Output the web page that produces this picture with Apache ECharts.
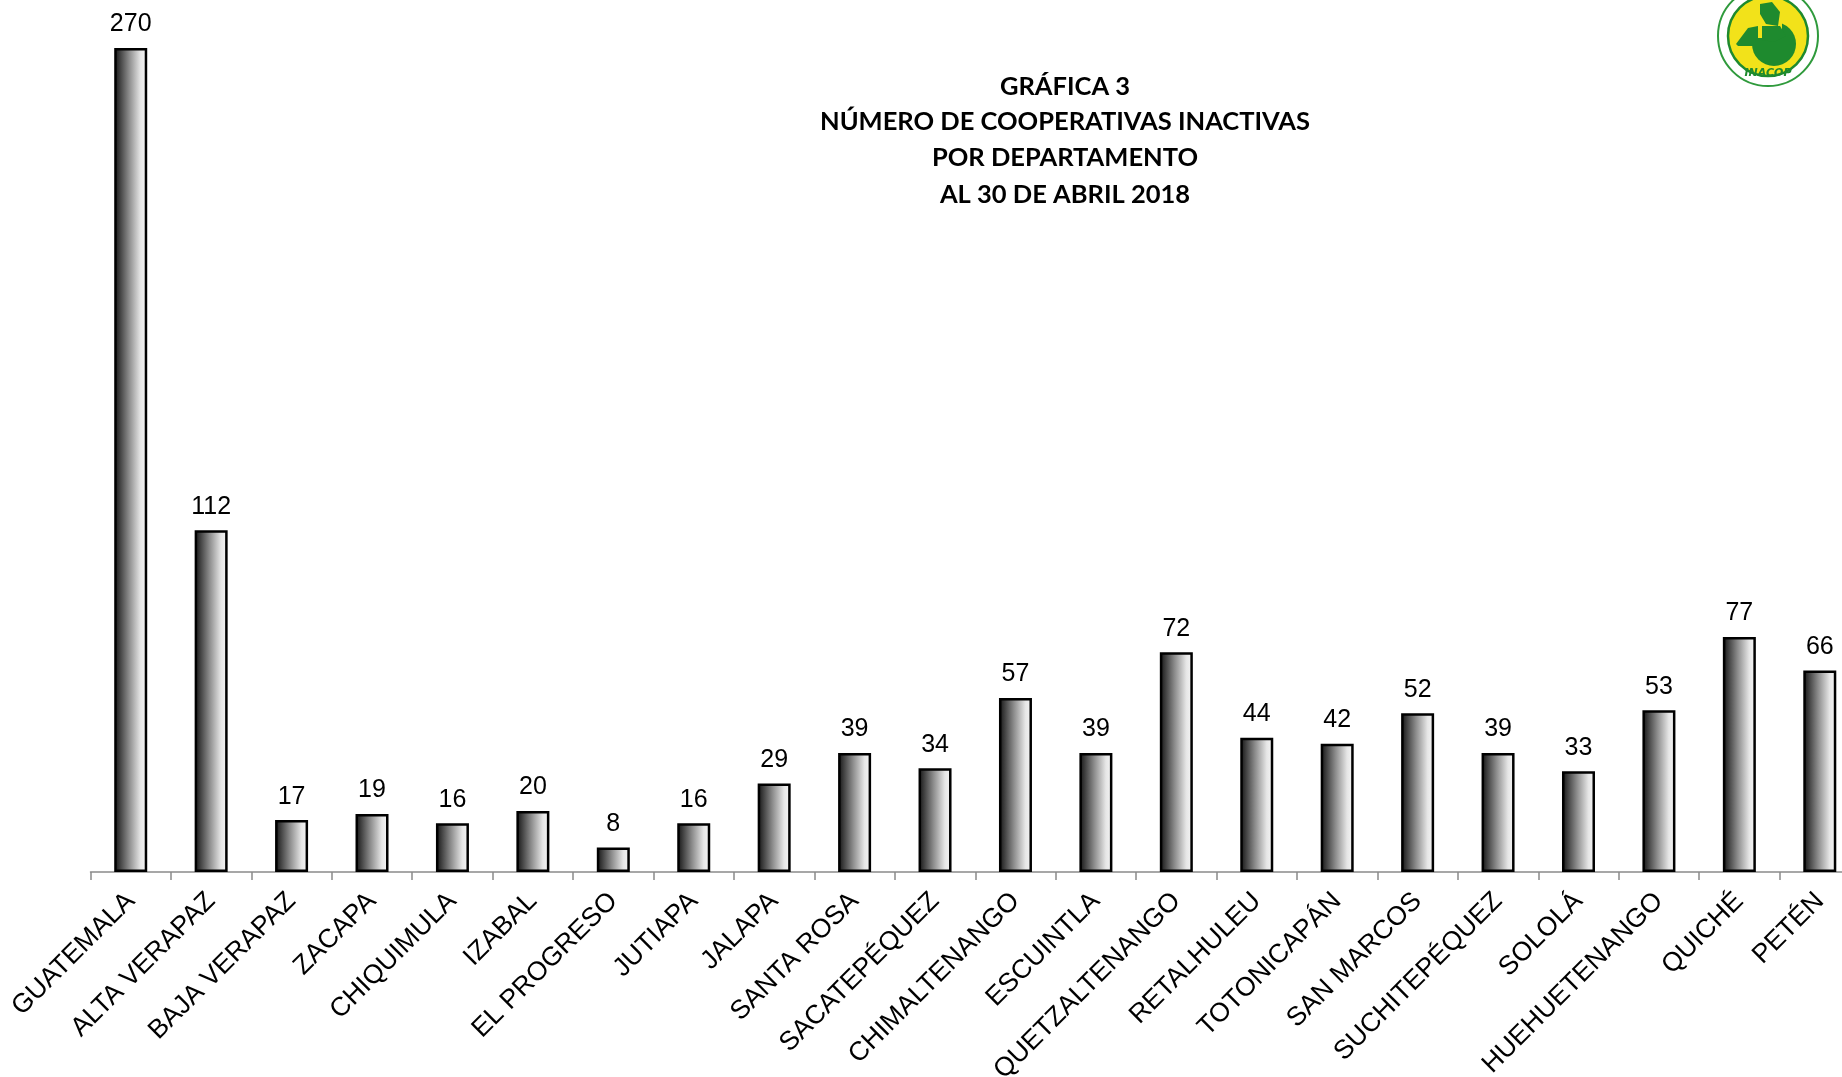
<!DOCTYPE html>
<html>
<head>
<meta charset="utf-8">
<script src="https://cdn.jsdelivr.net/npm/echarts@6/dist/echarts.min.js"></script>
<style>
html,body{margin:0;padding:0;background:#fff;}
#chart{width:1842px;height:1077px;}
</style>
</head>
<body>
<div id="chart"></div>
<script>
var categories = ['GUATEMALA','ALTA VERAPAZ','BAJA VERAPAZ','ZACAPA','CHIQUIMULA','IZABAL','EL PROGRESO','JUTIAPA','JALAPA','SANTA ROSA','SACATEPÉQUEZ','CHIMALTENANGO','ESCUINTLA','QUETZALTENANGO','RETALHULEU','TOTONICAPÁN','SAN MARCOS','SUCHITEPÉQUEZ','SOLOLÁ','HUEHUETENANGO','QUICHÉ','PETÉN'];
var values = [270,112,17,19,16,20,8,16,29,39,34,57,39,72,44,42,52,39,33,53,77,66];
var titleLines = ['GRÁFICA 3','NÚMERO DE COOPERATIVAS INACTIVAS','POR DEPARTAMENTO','AL 30 DE ABRIL 2018'];

var chart = echarts.init(document.getElementById('chart'), null, {renderer:'canvas'});

var barGradient = new echarts.graphic.LinearGradient(0,0,1,0,[
  {offset:0,color:'#111111'},
  {offset:0.45,color:'#8c8c8c'},
  {offset:0.8,color:'#e6e6e6'},
  {offset:1,color:'#f7f7f7'}
]);

var green = '#1e8a2e';
var yellow = '#f2e21a';
var titleY = [87,122,158,195];
var graphics = titleLines.map(function(t,i){
  return {type:'text', x:1065, y:titleY[i], style:{text:t, textAlign:'center', textVerticalAlign:'middle', font:'bold 25.5px Lato, "Open Sans", sans-serif', fill:'#000'}};
});
// logo
graphics.push(
  {type:'circle', shape:{cx:1768, cy:36, r:50}, style:{fill:'#fff', stroke:'#2f9a3c', lineWidth:2}},
  {type:'circle', shape:{cx:1768, cy:36, r:40}, style:{fill:yellow, stroke:green, lineWidth:2.5}},
  {type:'circle', shape:{cx:1774, cy:44, r:22}, style:{fill:green}},
  {type:'rect', shape:{x:1752, y:20, width:30, height:18}, style:{fill:yellow}},
  {type:'polygon', shape:{points:[[1736,44],[1748,28],[1758,26],[1758,46],[1738,46]]}, style:{fill:green}},
  {type:'polygon', shape:{points:[[1760,4],[1772,2],[1780,12],[1778,26],[1766,24],[1760,14]]}, style:{fill:green}},
  {type:'polygon', shape:{points:[[1762,26],[1780,26],[1786,36],[1774,42],[1762,40]]}, style:{fill:green}},
  {type:'text', x:1768, y:73, style:{text:'INACOP', textAlign:'center', textVerticalAlign:'middle', font:'bold italic 11px "DejaVu Sans", sans-serif', fill:green}}
);

var option = {
  animation:false,
  backgroundColor:'#fff',
  grid:{left:90.5, width:1769.5, top:48, bottom:205, containLabel:false, outerBoundsMode:'none'},
  xAxis:{
    type:'category',
    data:categories,
    axisLine:{lineStyle:{color:'#8a8a8a', width:1.5}},
    axisTick:{show:true, alignWithLabel:false, length:8, lineStyle:{color:'#8a8a8a', width:1.5}},
    axisLabel:{interval:0, rotate:45, margin:25, fontSize:26.5, color:'#000', fontFamily:'"Liberation Sans", Arial, sans-serif'}
  },
  yAxis:{type:'value', min:0, max:270, show:false, splitLine:{show:false}},
  series:[{
    type:'bar',
    data:values,
    barWidth:33,
    itemStyle:{color:barGradient, borderColor:'#000', borderWidth:2.5},
    label:{show:true, position:'top', distance:11, fontSize:25, color:'#000', fontFamily:'"Liberation Sans", Arial, sans-serif'}
  }],
  graphic:graphics
};
chart.setOption(option);
</script>
</body>
</html>
